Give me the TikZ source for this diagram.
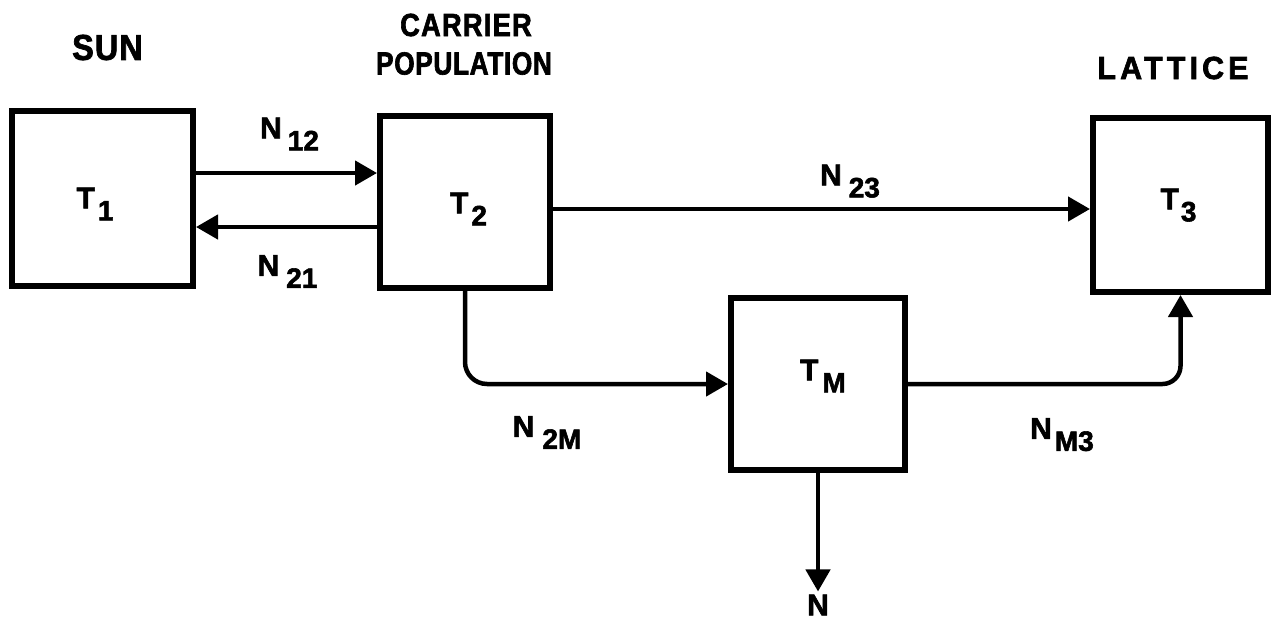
\documentclass[tikz,border=0pt]{standalone}
\usepackage{fontspec}
\setmainfont{Liberation Sans}[BoldFeatures={FakeBold=2}]
\usetikzlibrary{arrows.meta}

% symbol with a lowered subscript that does not change the box size
\newcommand\lbl[3][5pt]{#2\kern#1\raisebox{-12pt}[0pt][0pt]{\fontsize{28}{28}\selectfont #3}}
% capitals with extra tracking and horizontal stretch
\newcommand\tracked[3]{{\addfontfeatures{LetterSpace=#1,FakeStretch=#2}#3}}

\begin{document}
\begin{tikzpicture}[x=1pt,y=-1pt,
  font=\fontsize{30}{32}\selectfont\bfseries,
  box/.style={draw,line width=6pt,inner sep=0pt},
  txt/.style={inner sep=0pt},
  head/.style={inner sep=0pt,font=\fontsize{32}{34}\selectfont\bfseries},
  flow/.style={line width=4.5pt,-{Triangle[length=22pt,width=24pt]}}]

  \fill[white] (0,0) rectangle (1279,625);
  \useasboundingbox (0,0) rectangle (1279,625);

  % headings
  \node[head,font=\fontsize{36}{38}\selectfont\bfseries] (sunhead) at (107.5,47.5) {\tracked{3}{0.9}{SUN}};
  \node[head] (carhead) at (466,25) {\tracked{4}{0.85}{CARRIER}};
  \node[head] (pophead) at (464,63.5) {\tracked{2}{0.82}{POPULATION}};
  \node[head] (lathead) at (1173,68) {\tracked{13}{0.95}{LATTICE}};

  % temperature reservoirs
  \node[box,minimum width=181pt,minimum height=175pt,
        label={[txt,xshift=-7.5pt,yshift=0.5pt]center:\lbl[3pt]{T}{1}}] (T1) at (102.5,198.5) {};
  \node[box,minimum width=170pt,minimum height=172pt,
        label={[txt,xshift=3.5pt,yshift=-1pt]center:\lbl[3pt]{T}{2}}] (T2) at (465,202) {};
  \node[box,minimum width=175pt,minimum height=174pt,
        label={[txt,xshift=-2pt,yshift=6pt]center:\lbl[2pt]{T}{3}}] (T3) at (1180.5,205) {};
  \node[box,minimum width=174pt,minimum height=172pt,
        label={[txt,xshift=5pt,yshift=14pt]center:\lbl[4pt]{T}{M}}] (TM) at (818,384) {};

  % outflow
  \node[txt,inner sep=3pt] (Nout) at (818,605) {N};

  % heights of the horizontal exchanges
  \coordinate (y12) at (0,173);
  \coordinate (y21) at (0,227);
  \coordinate (y23) at (0,209);

  % connectors
  \draw[flow] (T1.east |- y12) -- (T2.west |- y12);
  \draw[flow] (T2.west |- y21) -- (T1.east |- y21);
  \draw[flow] (T2.east |- y23) -- (T3.west |- y23);
  \draw[flow,rounded corners=22pt] (T2.south) -- (T2.south |- TM.west) -- (TM.west);
  \draw[flow,rounded corners=18pt] (TM.east) -- (TM.east -| T3.south) -- (T3.south);
  \draw[flow] (TM.south) -- (Nout.north);

  % rate labels
  \node[txt] (n12) at (289.5,128) {\lbl[6pt]{N}{12}};
  \node[txt] (n21) at (287.5,265.5) {\lbl[7pt]{N}{21}};
  \node[txt] (n23) at (850,175) {\lbl[7pt]{N}{23}};
  \node[txt] (n2m) at (547,426.5) {\lbl[8pt]{N}{2M}};
  \node[txt] (nm3) at (1062,428.5) {\lbl[3pt]{N}{M3}};
\end{tikzpicture}
\end{document}
